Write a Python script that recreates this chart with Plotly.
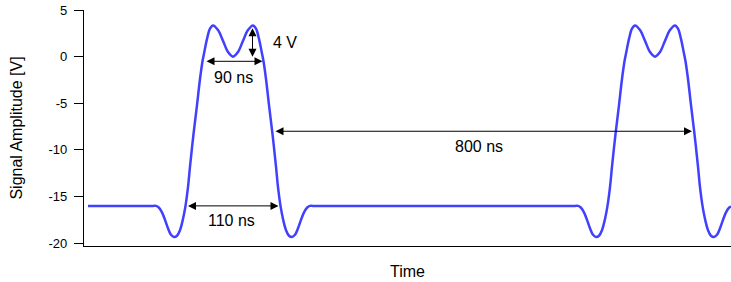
import plotly.graph_objects as go

# Time (ns) and signal amplitude (V)
time_ns = [
    8, 138, 144, 150, 156, 162, 168, 174, 180, 186, 192, 198, 203, 208, 212, 219, 226, 232, 237, 241, 246, 252, 258, 268, 278, 288, 298,
    308, 318, 328, 338, 344, 350, 355, 359, 364, 370, 377, 384, 388, 393, 398, 404, 410, 416, 422, 428, 434, 440, 446, 452, 458,
    982, 988, 994, 1000, 1006, 1012, 1018, 1024, 1030, 1036, 1042, 1047, 1052, 1056, 1063, 1070, 1076, 1081, 1085, 1090, 1096, 1102, 1112, 1122, 1132, 1142,
    1152, 1162, 1172, 1182, 1188, 1194, 1199, 1203, 1208, 1214, 1221, 1228, 1232, 1237, 1242, 1248, 1254, 1260, 1266, 1272, 1278, 1284, 1290, 1294,
]
amplitude_v = [
    -16.0, -16.0, -16.0, -16.2, -16.7, -17.5, -18.4, -19.1, -19.33, -19.2, -18.6, -17.4, -16.0, -14.0, -11.8, -8.3, -5.2, -2.4, -0.5, 0.6, 1.9, 3.0, 3.35, 2.85, 1.7, 0.5, 0.0,
    0.5, 1.7, 2.85, 3.35, 3.0, 1.9, 0.6, -0.5, -2.4, -5.2, -8.3, -11.8, -14.0, -16.0, -17.4, -18.6, -19.2, -19.33, -19.1, -18.4, -17.5, -16.7, -16.2, -16.0, -16.0,
    -16.0, -16.0, -16.2, -16.7, -17.5, -18.4, -19.1, -19.33, -19.2, -18.6, -17.4, -16.0, -14.0, -11.8, -8.3, -5.2, -2.4, -0.5, 0.6, 1.9, 3.0, 3.35, 2.85, 1.7, 0.5, 0.0,
    0.5, 1.7, 2.85, 3.35, 3.0, 1.9, 0.6, -0.5, -2.4, -5.2, -8.3, -11.8, -14.0, -16.0, -17.4, -18.6, -19.2, -19.33, -19.1, -18.4, -17.5, -16.7, -16.2, -16.1,
]

y_ticks = [-20, -15, -10, -5, 0, 5]
y_tick_labels = ["-20", "-15", "-10", "-5", "0", "5"]

# Dimension markers: (label, x_start, y_start, x_end, y_end, label_x, label_y, label_anchor)
dimensions = [
    ("4 V", 337, 3.2, 337, 0.0, 373, 1.5, "left"),
    ("90 ns", 242, -0.5, 357, -0.5, 298, -2.2, "center"),
    ("110 ns", 205, -16.0, 389, -16.0, 295, -17.6, "center"),
    ("800 ns", 380, -8.0, 1216, -8.0, 790, -9.6, "center"),
]

FONT = "Liberation Sans, Arial, sans-serif"

fig = go.Figure()
fig.add_trace(go.Scatter(
    x=time_ns, y=amplitude_v, mode="lines",
    line=dict(color="#4040ff", width=2.5, shape="spline", smoothing=1.0),
    hoverinfo="skip", showlegend=False,
))

annotations = []
for label, x0, y0, x1, y1, lx, ly, anchor in dimensions:
    annotations.append(dict(
        x=x1, y=y1, ax=x0, ay=y0, xref="x", yref="y", axref="x", ayref="y",
        text="", showarrow=True, arrowhead=2, startarrowhead=2,
        arrowside="end+start", arrowsize=1.6, startarrowsize=1.6,
        arrowwidth=1, arrowcolor="black", standoff=0, startstandoff=0,
    ))
    annotations.append(dict(
        x=lx, y=ly, xref="x", yref="y", text=label, showarrow=False,
        xanchor=anchor, yanchor="middle",
        font=dict(family=FONT, size=16, color="black"),
    ))

fig.update_layout(
    width=731, height=282,
    margin=dict(l=84, r=0, t=10, b=36, autoexpand=False),
    paper_bgcolor="white", plot_bgcolor="white",
    font=dict(family=FONT, color="black"),
    annotations=annotations,
    xaxis=dict(
        range=[0, 1294], showgrid=False, zeroline=False, automargin=False,
        showline=True, linecolor="black", linewidth=1.2,
        showticklabels=False, ticks="",
        title=dict(text="Time", font=dict(family=FONT, size=16), standoff=19),
    ),
    yaxis=dict(
        range=[-20.3, 5], showgrid=False, zeroline=False, automargin=False,
        showline=True, linecolor="black", linewidth=1.2,
        tickmode="array", tickvals=y_ticks, ticktext=y_tick_labels,
        ticks="outside", ticklen=9, tickcolor="black", tickwidth=1,
        tickfont=dict(family=FONT, size=13), ticklabelstandoff=4,
        title=dict(text="Signal Amplitude [V]", font=dict(family=FONT, size=16), standoff=21),
    ),
)

fig.write_html(
    "out.html",
    config={"displayModeBar": False, "staticPlot": True},
    post_script="document.body.style.margin='0';document.body.style.overflow='hidden';",
)
